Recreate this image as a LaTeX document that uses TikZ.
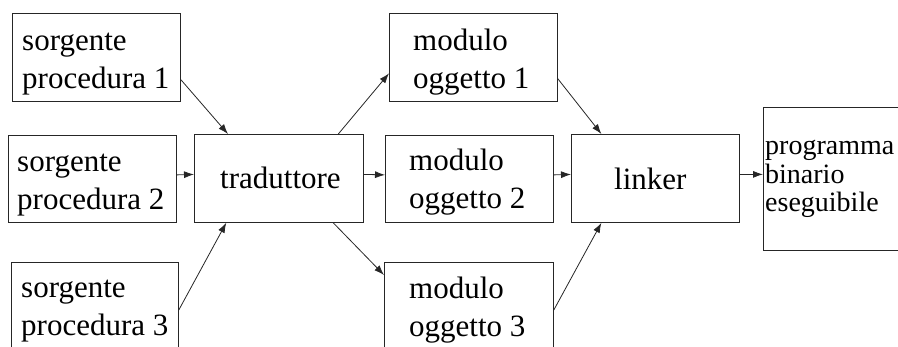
\documentclass[tikz,border=0pt]{standalone}
\usepackage{fontspec}
\setmainfont{Liberation Serif}
\usetikzlibrary{arrows.meta,calc}

\begin{document}
\begin{tikzpicture}[x=1pt,y=-1pt,
  box/.style={draw=black!85,line width=0.8pt,inner sep=0pt,anchor=north west},
  lbl/.style={inner sep=0pt,anchor=base west,align=left,
    font=\fontsize{31}{38.5}\selectfont},
  small/.style={inner sep=0pt,anchor=base west,align=left,
    font=\fontsize{28}{28.5}\selectfont},
  arr/.style={draw=black!85,line width=0.8pt,-{Latex[length=10pt,width=7pt]}}]
\useasboundingbox (0,0) rectangle (898,347);
\clip (0,0) rectangle (898,347);

% boxes
\node[box,minimum width=168pt,minimum height=88pt] (s1) at (12,13) {};
\node[box,minimum width=168pt,minimum height=87pt] (s2) at (8,135) {};
\node[box,minimum width=167pt,minimum height=88pt] (s3) at (11,262) {};
\node[box,minimum width=169pt,minimum height=88pt] (trad) at (194,134) {};
\node[box,minimum width=168pt,minimum height=88pt] (m1) at (389,13) {};
\node[box,minimum width=168pt,minimum height=87pt] (m2) at (385,135) {};
\node[box,minimum width=169pt,minimum height=88pt] (m3) at (384,262) {};
\node[box,minimum width=168pt,minimum height=88pt] (lnk) at (571,134) {};
\node[box,minimum width=150pt,minimum height=143pt] (prog) at (763,107) {};

% texts (anchored at the baseline of their last line)
\node[lbl] (t1) at (22,89) {sorgente\\procedura 1};
\node[lbl] (t2) at (17,210) {sorgente\\procedura 2};
\node[lbl] (t3) at (21,336) {sorgente\\procedura 3};
\node[lbl] (tt) at (220,189) {traduttore};
\node[lbl] (tm1) at (413,89) {modulo\\oggetto 1};
\node[lbl] (tm2) at (409,209) {modulo\\oggetto 2};
\node[lbl] (tm3) at (409,337) {modulo\\oggetto 3};
\node[lbl] (tl) at (614,190) {linker};
\node[small] (tp) at (765,212) {programma\\binario\\eseguibile};

% connectors
\draw[arr] ($(s1.north east)!0.75!(s1.south east)$) -- ($(trad.north west)!0.2!(trad.north east)$);
\draw[arr] ([yshift=4pt]s2.east) -- ([yshift=4pt]trad.west);
\draw[arr] ($(s3.north east)+(0,48)$) -- ($(trad.south west)!0.19!(trad.south east)$);
\draw[arr] ($(trad.north west)!0.85!(trad.north east)$) -- ($(m1.north west)!0.68!(m1.south west)$);
\draw[arr] ([yshift=4pt]trad.east) -- ([yshift=4pt]m2.west);
\draw[arr] ($(trad.south west)!0.82!(trad.south east)$) -- ($(m3.north west)+(0,13)$);
\draw[arr] ($(m1.north east)!0.74!(m1.south east)$) -- ($(lnk.north west)!0.18!(lnk.north east)$);
\draw[arr] ([yshift=4pt]m2.east) -- ([yshift=4pt]lnk.west);
\draw[arr] ($(m3.north east)+(0,48)$) -- ($(lnk.south west)!0.18!(lnk.south east)$);
\draw[arr] ([yshift=4pt]lnk.east) -- ([yshift=4pt]prog.west |- lnk.east);
\end{tikzpicture}
\end{document}
